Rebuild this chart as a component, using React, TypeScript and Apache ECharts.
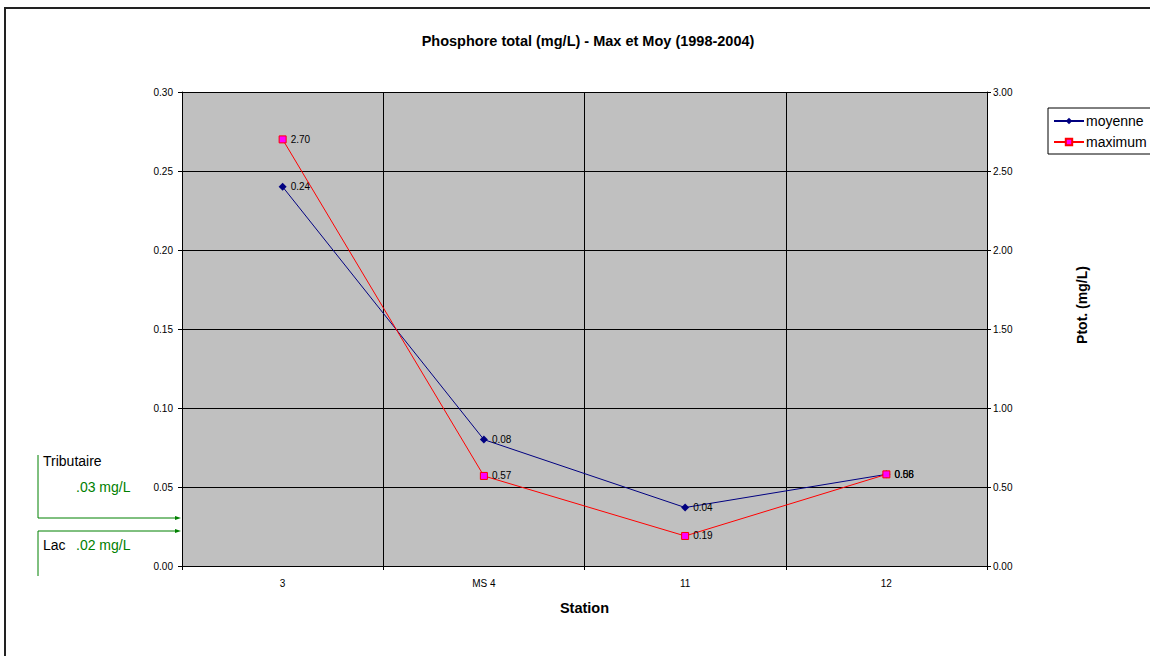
import React, { useEffect, useRef } from "react";
import * as echarts from "echarts";

const stations = ["3", "MS 4", "11", "12"];
const moyenne = [0.24, 0.08, 0.037, 0.058];
const maximum = [2.7, 0.57, 0.19, 0.58];
const title = "Phosphore total (mg/L) - Max et Moy (1998-2004)";

export default function App() {
  const ref = useRef<HTMLDivElement>(null);
  useEffect(() => {
    const chart = echarts.init(ref.current!, null, { renderer: "svg" });
    const green = "#008000";
    const font = "Liberation Sans, Arial, sans-serif";
    chart.setOption({
      animation: false,
      textStyle: { fontFamily: font },
      title: {
        text: title,
        left: 583,
        textAlign: "center",
        top: 28,
        textStyle: { fontSize: 14.5, fontWeight: "bold", color: "#000", fontFamily: font },
      },
      legend: {
        orient: "vertical",
        left: 1048,
        top: 108,
        borderColor: "#000",
        borderWidth: 1,
        padding: [6, 20, 5, 5],
        itemGap: 7,
        itemWidth: 30,
        itemHeight: 8,
        backgroundColor: "#fff",
        textStyle: { fontSize: 14, color: "#000", fontFamily: font, padding: [0, 0, 0, -3] },
        data: ["moyenne", "maximum"],
      },
      grid: { left: 182, right: 163, top: 92, bottom: 90, containLabel: false, show: true, backgroundColor: "#C0C0C0", borderWidth: 0 },
      xAxis: {
        type: "category",
        data: stations,
        boundaryGap: true,
        name: "Station",
        nameLocation: "middle",
        nameGap: 34,
        nameTextStyle: { fontSize: 14.5, fontWeight: "bold", color: "#000" },
        axisLine: { lineStyle: { color: "#000", width: 1 } },
        axisTick: { show: true, length: 4, lineStyle: { color: "#000" } },
        axisLabel: { fontSize: 10, color: "#000", margin: 12 },
        splitLine: { show: true, lineStyle: { color: "#000", width: 1 } },
      },
      yAxis: [
        {
          type: "value",
          min: 0,
          max: 0.3,
          interval: 0.05,
          position: "left",
          axisLine: { show: true, lineStyle: { color: "#000" } },
          axisTick: { show: true, length: 4, lineStyle: { color: "#000" } },
          axisLabel: { fontSize: 10, color: "#000", margin: 9, formatter: (v: number) => v.toFixed(2) },
          splitLine: { show: true, lineStyle: { color: "#000", width: 1 } },
        },
        {
          type: "value",
          min: 0,
          max: 3,
          interval: 0.5,
          position: "right",
          axisLine: { show: true, lineStyle: { color: "#000" } },
          axisTick: { show: true, length: 4, lineStyle: { color: "#000" } },
          axisLabel: { fontSize: 10, color: "#000", margin: 6, formatter: (v: number) => v.toFixed(2) },
          splitLine: { show: false },
        },
      ],
      series: [
        {
          name: "moyenne",
          type: "line",
          yAxisIndex: 0,
          data: moyenne,
          symbol: "diamond",
          symbolSize: 8,
          itemStyle: { color: "#000080" },
          lineStyle: { color: "#000080", width: 1 },
          label: { show: true, position: "right", distance: 4, fontSize: 10, color: "#000", formatter: (p: any) => p.value.toFixed(2) },
          z: 3,
        },
        {
          name: "maximum",
          type: "line",
          yAxisIndex: 1,
          data: maximum,
          symbol: "rect",
          symbolSize: 7,
          itemStyle: { color: "#FF00FF", borderColor: "#FF0000", borderWidth: 1 },
          lineStyle: { color: "#FF0000", width: 1 },
          label: { show: true, position: "right", distance: 4, fontSize: 10, color: "#000", formatter: (p: any) => p.value.toFixed(2) },
          z: 4,
        },
      ],
      graphic: [
        { type: "rect", shape: { x: 5, y: 8, width: 1160, height: 670 }, style: { fill: "none", stroke: "#222", lineWidth: 2 }, z: 0, silent: true },
        { type: "text", x: 1082, y: 305, rotation: Math.PI / 2, style: { text: "Ptot. (mg/L)", fill: "#000", font: `bold 14px ${font}`, textAlign: "center", textVerticalAlign: "middle" } },
        { type: "line", shape: { x1: 38, y1: 455, x2: 38, y2: 518 }, style: { stroke: green, lineWidth: 1 } },
        { type: "line", shape: { x1: 38, y1: 518, x2: 178, y2: 518 }, style: { stroke: green, lineWidth: 1 } },
        { type: "polygon", shape: { points: [[181, 518], [175, 516], [175, 520]] }, style: { fill: green } },
        { type: "line", shape: { x1: 38, y1: 531, x2: 178, y2: 531 }, style: { stroke: green, lineWidth: 1 } },
        { type: "polygon", shape: { points: [[181, 531], [175, 529], [175, 533]] }, style: { fill: green } },
        { type: "line", shape: { x1: 38, y1: 531, x2: 38, y2: 576 }, style: { stroke: green, lineWidth: 1 } },
        { type: "text", x: 43, y: 461, style: { text: "Tributaire", fill: "#000", font: `14px ${font}`, textVerticalAlign: "middle" } },
        { type: "text", x: 76, y: 487, style: { text: ".03 mg/L", fill: green, font: `14px ${font}`, textVerticalAlign: "middle" } },
        { type: "text", x: 43, y: 545, style: { text: "Lac", fill: "#000", font: `14px ${font}`, textVerticalAlign: "middle" } },
        { type: "text", x: 76, y: 545, style: { text: ".02 mg/L", fill: green, font: `14px ${font}`, textVerticalAlign: "middle" } },
      ],
    });
    return () => chart.dispose();
  }, []);
  return <div ref={ref} style={{ position: "fixed", left: 0, top: 0, width: 1150, height: 656, background: "#fff" }} />;
}
